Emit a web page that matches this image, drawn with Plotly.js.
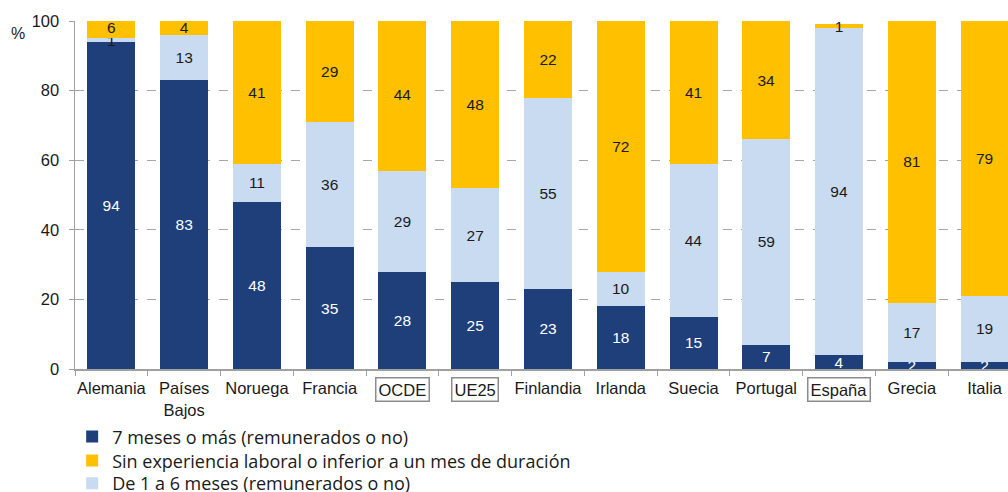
<!DOCTYPE html>
<html>
<head>
<meta charset="utf-8">
<script src="https://cdn.plot.ly/plotly-3.0.1.min.js"></script>
<style>
  html, body { margin: 0; padding: 0; background: #fff; overflow: hidden; }
  #chart { width: 1022px; height: 492px; }
</style>
</head>
<body>
<div id="chart"></div>
<script>
// Países / agregados
const paises = ["Alemania", "Países<br>Bajos", "Noruega", "Francia", "OCDE", "UE25", "Finlandia",
                "Irlanda", "Suecia", "Portugal", "España", "Grecia", "Italia"];
// los que van recuadrados en el eje
const recuadrados = ["OCDE", "UE25", "España"];

// Valores (%)
const sieteMeses = [94, 83, 48, 35, 28, 25, 23, 18, 15, 7, 4, 2, 2];
const unoSeisMeses = [1, 13, 11, 36, 29, 27, 55, 10, 44, 59, 94, 17, 19];
const sinExperiencia = [6, 4, 41, 29, 44, 48, 22, 72, 41, 34, 1, 81, 79];

const nombres = [
    "7 meses o más (remunerados o no)",
    "Sin experiencia laboral o inferior a un mes de duración",
    "De 1 a 6 meses (remunerados o no)"
];

const AZUL = '#1f3f7b';
const AMARILLO = '#ffc000';
const CELESTE = '#c9dbf1';
const FUENTE = 'Liberation Sans, Arial, sans-serif';

function serie(valores, nombre, color, colorTexto, leyenda) {
    return {
        type: 'bar',
        x: paises,
        y: valores,
        name: nombre,
        legend: leyenda,
        marker: { color: color, line: { width: 0 } },
        text: valores.map(String),
        textposition: 'inside',
        insidetextanchor: 'middle',
        textangle: 0,
        textfont: { family: FUENTE, size: 15.5, color: colorTexto },
        hoverinfo: 'skip'
    };
}

const datos = [
    serie(sieteMeses, nombres[0], AZUL, '#ffffff', 'legend'),
    serie(unoSeisMeses, nombres[2], CELESTE, '#1a1a1a', 'legend3'),
    serie(sinExperiencia, nombres[1], AMARILLO, '#1a1a1a', 'legend2')
];

// etiquetas recuadradas con anotaciones, el resto como ticks normales
const anotaciones = recuadrados.map(p => ({
    x: p, xref: 'x', y: 0, yref: 'paper',
    yanchor: 'top', yshift: -8,
    text: p, showarrow: false,
    font: { family: FUENTE, size: 16.5, color: '#1a1a1a' },
    bordercolor: '#8c8c8c', borderwidth: 1.5, borderpad: 2, bgcolor: '#fff'
}));
anotaciones.push({
    x: 0, xref: 'paper', xshift: -57, xanchor: 'center',
    y: 1, yref: 'paper', yshift: -12, yanchor: 'middle',
    text: '%', showarrow: false,
    font: { family: FUENTE, size: 16, color: '#1a1a1a' }
});

// una leyenda por fila para controlar el interlineado
function leyenda(y) {
    return {
        orientation: 'v',
        x: -0.003, xanchor: 'left',
        y: y, yanchor: 'middle',
        font: { family: 'Open Sans, sans-serif', size: 18, color: '#1a1a1a' },
        itemwidth: 30,
        bgcolor: 'rgba(0,0,0,0)'
    };
}

const layout = {
    width: 1022,
    height: 492,
    margin: { l: 75, r: 1, t: 21, b: 123, autoexpand: false },
    barmode: 'stack',
    bargap: 0.34,
    paper_bgcolor: '#fff',
    plot_bgcolor: '#fff',
    font: { family: FUENTE, size: 16.5, color: '#1a1a1a' },
    uniformtext: { minsize: 15.5, mode: 'show' },
    xaxis: {
        type: 'category',
        range: [-0.5, 12.5],
        tickvals: paises,
        ticktext: paises.map(p => recuadrados.includes(p) ? '' : p),
        tickangle: 0,
        tickson: 'boundaries',
        ticks: 'outside',
        ticklen: 5,
        tickcolor: '#a0a0a0',
        ticklabelstandoff: 4,
        showline: true,
        linecolor: '#a0a0a0',
        linewidth: 1.5,
        showgrid: false,
        fixedrange: true
    },
    yaxis: {
        range: [0, 100],
        tickvals: [0, 20, 40, 60, 80, 100],
        ticks: 'outside',
        ticklen: 5,
        tickcolor: '#a0a0a0',
        showline: true,
        linecolor: '#a0a0a0',
        linewidth: 1.5,
        showgrid: true,
        gridcolor: '#a6a6a6',
        griddash: 'dash',
        gridwidth: 1,
        zeroline: false,
        ticklabelstandoff: 6,
        fixedrange: true
    },
    legend: leyenda(-0.195),
    legend2: leyenda(-0.264),
    legend3: leyenda(-0.329),
    annotations: anotaciones,
    showlegend: true
};

Plotly.newPlot('chart', datos, layout, { displayModeBar: false, staticPlot: true });
</script>
</body>
</html>
